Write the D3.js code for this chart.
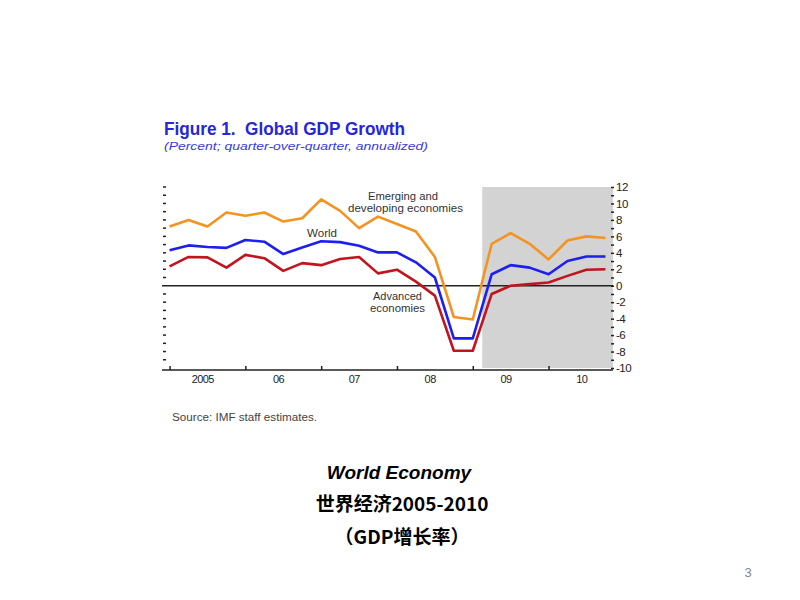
<!DOCTYPE html>
<html><head><meta charset="utf-8">
<script src="https://cdn.jsdelivr.net/npm/d3@7/dist/d3.min.js"></script>
<style>body{margin:0;background:#fff}svg{display:block}</style>
</head><body>
<svg id="c" width="800" height="600"></svg>
<script>
// quarterly data 2005Q1 .. 2010Q4
const quarters = d3.range(24);
const emerging = [7.2,8.0,7.2,8.9,8.5,8.9,7.8,8.2,10.5,9.1,7.0,8.4,7.5,6.6,3.5,-3.8,-4.1,5.1,6.4,5.1,3.2,5.5,6.0,5.8];
const world    = [4.3,4.9,4.7,4.6,5.55,5.35,3.85,4.65,5.4,5.3,4.85,4.05,4.05,2.85,1.0,-6.4,-6.4,1.4,2.5,2.2,1.4,3.0,3.55,3.55];
const advanced = [2.35,3.5,3.45,2.2,3.75,3.35,1.8,2.75,2.5,3.25,3.5,1.5,1.95,0.5,-1.2,-7.9,-7.9,-1.0,0.0,0.2,0.4,1.2,1.95,2.0];
const yearLabels = ["2005","06","07","08","09","10"];
const projectionStart = 16.5;

const svg = d3.select("#c");
const font = "'Liberation Sans', Arial, sans-serif";
const x = d3.scaleLinear().domain([-0.4, 23.4]).range([162, 613]);
const y = d3.scaleLinear().domain([-10, 12]).range([368, 187]);

function txt(t, xx, yy, len, size, opts = {}) {
  const e = svg.append("text").attr("x", xx).attr("y", yy).attr("font-family", opts.family || font)
    .attr("font-size", size).attr("fill", opts.fill || "#333").attr("xml:space", "preserve").text(t);
  if (len) e.attr("textLength", len).attr("lengthAdjust", "spacingAndGlyphs");
  if (opts.weight) e.attr("font-weight", opts.weight);
  if (opts.style) e.attr("font-style", opts.style);
  if (opts.anchor) e.attr("text-anchor", opts.anchor);
  return e;
}

// title
txt("Figure 1.  Global GDP Growth", 164, 135, 241, 19, {weight: "bold", fill: "#2626d8"});
txt("(Percent; quarter-over-quarter, annualized)", 164, 150, 264, 11, {style: "italic", fill: "#3a3ad8"});

// shading
svg.append("rect").attr("x",x(projectionStart)).attr("y",y(12)).attr("width",x.range()[1]-x(projectionStart))
  .attr("height",y(-10)-y(12)).attr("fill","#d3d3d3");

// left minor ticks
const minor = d3.range(-10, 13, 1);
svg.append("g").selectAll("line").data(minor.filter(v=>v!==0 && v!==-10)).join("line")
  .attr("x1",163).attr("x2",166).attr("y1",d=>y(d)).attr("y2",d=>y(d)).attr("stroke","#222").attr("stroke-width",1.5);

// right axis
const ra = d3.axisRight(y).tickValues(minor).tickSize(3).tickFormat(d => d%2===0 ? d : "");
const rg = svg.append("g").attr("transform",`translate(${x.range()[1]-2},0)`).call(ra);
rg.select(".domain").remove();
rg.selectAll("line").attr("stroke","#222").attr("stroke-width",1.5);
rg.selectAll("text").attr("font-family",font).attr("font-size",11.5).attr("fill","#222").attr("x",5).attr("letter-spacing",-0.5);

// bottom axis
const xa = d3.axisTop(x).tickValues([0,4,8,12,16,20]).tickSize(4).tickFormat("");
const bg = svg.append("g").attr("transform",`translate(0,${y(-10)+2})`).call(xa);
bg.select(".domain").attr("stroke","#222").attr("stroke-width",1.5).attr("d",`M${x.range()[0]},0H${x.range()[1]}`);
bg.selectAll("line").attr("stroke","#222").attr("stroke-width",1.5);
svg.append("g").selectAll("text").data(yearLabels).join("text")
  .attr("x",(d,i)=>x(i*4+1.75)).attr("y",y(-10)+15).attr("text-anchor","middle")
  .attr("font-family",font).attr("font-size",11).attr("fill","#222").attr("letter-spacing",-0.6).text(d=>d);

// zero line
svg.append("line").attr("x1",x.range()[0]).attr("x2",x.range()[1]).attr("y1",y(0)).attr("y2",y(0))
  .attr("stroke","#222").attr("stroke-width",1.6);

const line = d3.line().x((d,i)=>x(quarters[i])).y(d=>y(d));
[[emerging,"#f39322"],[world,"#1e1ef0"],[advanced,"#c0141e"]].forEach(([data,col])=>{
  svg.append("path").datum(data).attr("d",line).attr("fill","none").attr("stroke",col).attr("stroke-width",2.6).attr("stroke-linejoin","round");
});

// labels
txt("Emerging and", 368, 200, 70, 10.5);
txt("developing economies", 348, 212, 115, 10.5);
txt("World", 307, 237, 30, 10.5);
txt("Advanced", 373, 300, 49, 10.5);
txt("economies", 370, 312, 55, 10.5);

// source
txt("Source: IMF staff estimates.", 172, 421, 145, 10, {fill: "#444"});

// bottom titles
txt("World Economy", 399, 479, null, 19, {weight: "bold", style: "italic", fill: "#000", anchor: "middle"});
txt("世界经济2005-2010", 402, 511, null, 19, {weight: "bold", fill: "#000", anchor: "middle", family: "'Noto Sans CJK SC', sans-serif"});
txt("（GDP增长率）", 402, 544, null, 19, {weight: "bold", fill: "#000", anchor: "middle", family: "'Noto Sans CJK SC', sans-serif"});
txt("3", 748, 577, null, 13, {fill: "#888", anchor: "middle"});
</script>
</body></html>
